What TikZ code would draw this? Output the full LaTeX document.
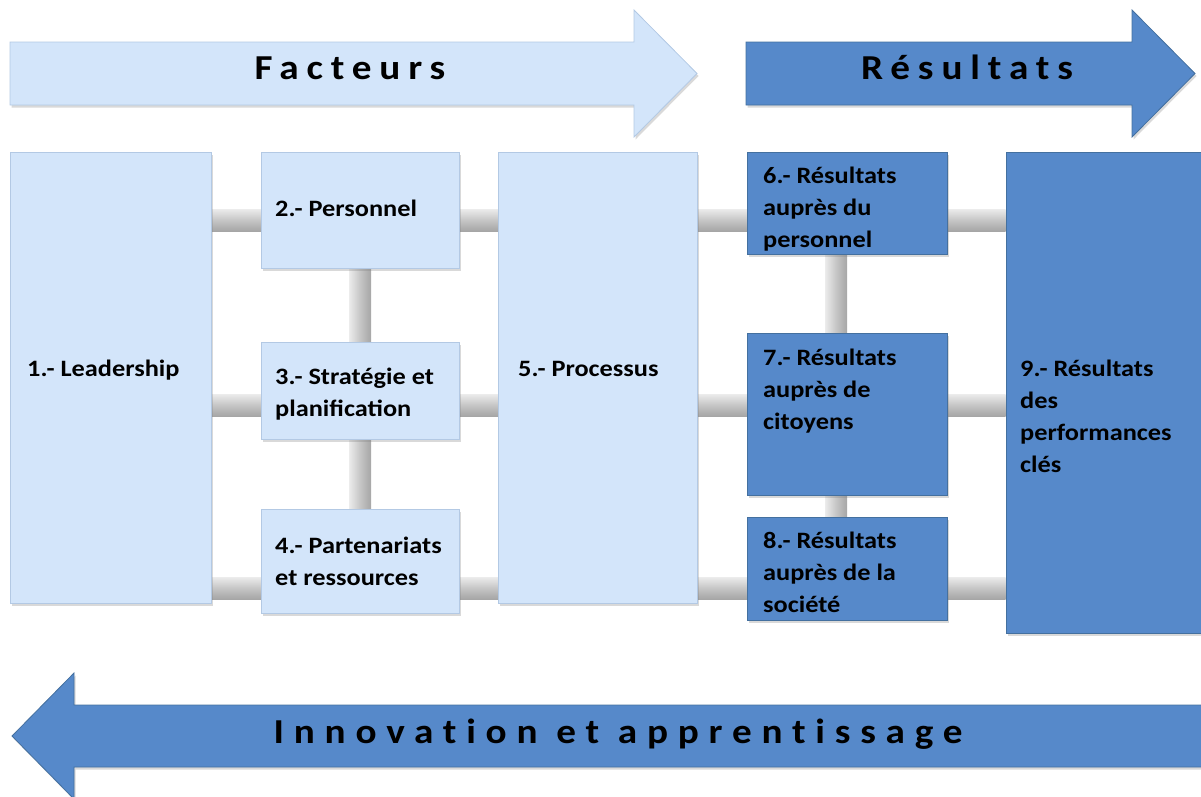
\documentclass[tikz,border=0pt]{standalone}
\usepackage{fontspec}
\setmainfont{Carlito}[FakeStretch=1.12]
\newfontfamily\titlefont{Carlito}[FakeStretch=1.12, LetterSpace=22.5, Ligatures={NoCommon}, RawFeature={-liga;-dlig;-clig}]
\newfontfamily\wideTitlefont{Carlito}[FakeStretch=1.12, LetterSpace=28, Ligatures={NoCommon}, RawFeature={-liga;-dlig;-clig}]
\usetikzlibrary{shadows,fit,backgrounds}
\definecolor{lightfill}{HTML}{D3E5FA}
\definecolor{lightedge}{HTML}{B3C9E4}
\definecolor{darkfill}{HTML}{5689CA}
\definecolor{darkedge}{HTML}{44709F}
\tikzset{
  boxbase/.style={rectangle, inner sep=0pt, line width=0.8pt,
    drop shadow={shadow xshift=1.5pt, shadow yshift=-2.5pt, opacity=0.3}},
  lbox/.style={boxbase, fill=lightfill, draw=lightedge},
  dbox/.style={boxbase, fill=darkfill, draw=darkedge},
  larrow/.style={fill=lightfill, draw=lightedge, line width=0.8pt,
    drop shadow={shadow xshift=1.5pt, shadow yshift=-2.5pt, opacity=0.3}},
  darrow/.style={fill=darkfill, draw=darkedge, line width=0.8pt,
    drop shadow={shadow xshift=1.5pt, shadow yshift=-2.5pt, opacity=0.3}},
  boxtext/.style={anchor=base west, align=left, inner sep=0pt,
    font=\bfseries\fontsize{23.5}{32}\selectfont, text=black},
  titletext/.style={inner sep=0pt, anchor=base,
    font=\titlefont\bfseries\fontsize{35}{40}\selectfont, text=black},
  widetitletext/.style={inner sep=0pt, anchor=base,
    font=\wideTitlefont\bfseries\fontsize{35}{40}\selectfont, text=black},
  hbar/.style={top color=gray!15, bottom color=gray!70, middle color=gray!45},
  vbar/.style={left color=gray!15, right color=gray!70, middle color=gray!45},
}
\begin{document}
\begin{tikzpicture}[x=1pt,y=-1pt]
\useasboundingbox (0,0) rectangle (1201,796);

% big arrows
\path[larrow] (10,42) -- (634,42) -- (634,10) -- (697,73.5) -- (634,137) -- (634,105) -- (10,105) -- cycle;
\path[darrow] (746,42) -- (1132,42) -- (1132,10) -- (1195,73.5) -- (1132,137) -- (1132,105) -- (746,105) -- cycle;
\path[darrow] (1215,705) -- (74,705) -- (74,673) -- (12,736) -- (74,799) -- (74,767) -- (1215,767) -- cycle;
\node[titletext] (facteurs) at (350,79) {Facteurs};
\node[titletext] (resultats) at (967,79) {Résultats};
\node[widetitletext] (innov) at (618,743) {Innovation et apprentissage};

% boxes
\node[lbox, fit={(10,152) (211,603)}] (b1) {};
\node[lbox, fit={(261,152) (459,268)}] (b2) {};
\node[lbox, fit={(261,342) (459,439)}] (b3) {};
\node[lbox, fit={(261,509) (459,613)}] (b4) {};
\node[lbox, fit={(498,152) (697,603)}] (b5) {};
\node[dbox, fit={(747,152) (947,254)}] (b6) {};
\node[dbox, fit={(747,333) (947,495)}] (b7) {};
\node[dbox, fit={(747,517) (947,620)}] (b8) {};
\node[dbox, fit={(1006,152) (1215,633)}] (b9) {};

% texts (base anchor = baseline of the last line)
\node[boxtext] (t1) at (27,376) {1.- Leadership};
\node[boxtext] (t2) at (275,216) {2.- Personnel};
\node[boxtext] (t3) at (275,416) {3.- Stratégie et\\planification};
\node[boxtext] (t4) at (275,585) {4.- Partenariats\\et ressources};
\node[boxtext] (t5) at (518,376) {5.- Processus};
\node[boxtext] (t6) at (763,247) {6.- Résultats\\auprès du\\personnel};
\node[boxtext] (t7) at (763,429) {7.- Résultats\\auprès de\\citoyens};
\node[boxtext] (t8) at (763,612) {8.- Résultats\\auprès de la\\société};
\node[boxtext] (t9) at (1020,472) {9.- Résultats\\des\\performances\\clés};

% connector bars behind the boxes
\coordinate (r1a) at (0,209); \coordinate (r1b) at (0,231);
\coordinate (r2a) at (0,394); \coordinate (r2b) at (0,416);
\coordinate (r3a) at (0,577); \coordinate (r3b) at (0,599);
\coordinate (c1a) at (349,0); \coordinate (c1b) at (371,0);
\coordinate (c2a) at (825,0); \coordinate (c2b) at (847,0);
\begin{scope}[on background layer]
  \path[hbar] (b1.east |- r1a) rectangle (b9.west |- r1b);
  \path[hbar] (b1.east |- r2a) rectangle (b9.west |- r2b);
  \path[hbar] (b1.east |- r3a) rectangle (b9.west |- r3b);
  \path[vbar] (b2.south -| c1a) rectangle (b4.north -| c1b);
  \path[vbar] (b6.south -| c2a) rectangle (b8.north -| c2b);
\end{scope}
\end{tikzpicture}
\end{document}
